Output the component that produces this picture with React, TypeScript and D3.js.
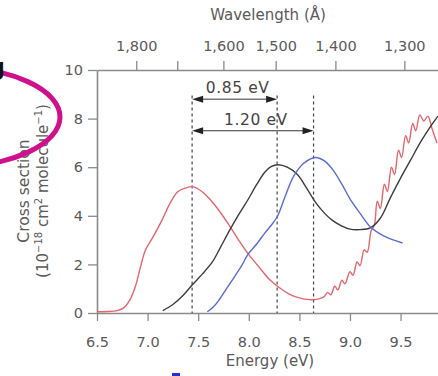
import * as d3 from "d3";
import React, { useRef, useEffect } from 'react'

// energy (eV), cross section (1e-18 cm2 / molecule)
const redE = [6.5, 6.6, 6.7, 6.76, 6.82, 6.88, 6.93, 6.98, 7.05, 7.14, 7.22, 7.3, 7.38, 7.44, 7.52, 7.6, 7.7, 7.8, 7.9, 8.0, 8.1, 8.2, 8.3, 8.4, 8.5, 8.6, 8.68, 8.74,
  8.78, 8.81, 8.85, 8.88, 8.92, 8.95, 9.0, 9.03, 9.07, 9.1, 9.14, 9.17, 9.21, 9.24, 9.27, 9.3, 9.34, 9.37, 9.41, 9.44, 9.48, 9.51, 9.55, 9.58, 9.62, 9.65, 9.69, 9.73, 9.77, 9.81, 9.86]
const redV = [0.05, 0.06, 0.1, 0.2, 0.5, 1.1, 1.9, 2.6, 3.1, 3.8, 4.5, 5.0, 5.15, 5.2, 5.05, 4.75, 4.25, 3.65, 3.0, 2.4, 1.9, 1.4, 1.05, 0.78, 0.62, 0.55, 0.57, 0.65,
  0.85, 0.75, 1.1, 0.95, 1.35, 1.2, 1.7, 1.55, 2.1, 1.95, 2.6, 2.5, 3.4, 3.6, 4.6, 4.3, 5.3, 5.0, 6.0, 5.7, 6.7, 6.4, 7.3, 7.0, 7.8, 7.5, 8.15, 7.9, 8.1, 7.6, 7.0]

const blackE = [7.15, 7.25, 7.35, 7.44, 7.54, 7.64, 7.72, 7.81, 7.9, 7.99, 8.08, 8.16, 8.22, 8.29, 8.38, 8.48, 8.57, 8.66, 8.75, 8.83, 8.92, 9.0, 9.1, 9.2, 9.3, 9.4, 9.5, 9.6, 9.7, 9.8, 9.87]
const blackV = [0.1, 0.35, 0.72, 1.15, 1.6, 2.1, 2.7, 3.4, 4.05, 4.65, 5.3, 5.8, 6.02, 6.1, 6.0, 5.7, 5.15, 4.55, 4.1, 3.8, 3.58, 3.45, 3.43, 3.5, 3.9, 4.75, 5.55, 6.3, 7.05, 7.7, 8.1]

const blueE = [7.59, 7.65, 7.7, 7.78, 7.86, 7.93, 7.99, 8.08, 8.16, 8.22, 8.28, 8.36, 8.44, 8.54, 8.66, 8.75, 8.83, 8.92, 9.0, 9.1, 9.2, 9.28, 9.37, 9.45, 9.52]
const blueV = [0.05, 0.25, 0.5, 1.0, 1.5, 1.95, 2.4, 2.85, 3.3, 3.6, 3.95, 4.8, 5.6, 6.15, 6.4, 6.25, 5.9, 5.3, 4.7, 4.1, 3.55, 3.3, 3.1, 2.98, 2.88]

const energyTicks = [6.5, 7.0, 7.5, 8.0, 8.5, 9.0, 9.5]
const crossTicks = [0, 2, 4, 6, 8, 10]
const wavelengthTicks = [1800, 1700, 1600, 1500, 1400, 1300]
const wavelengthLabels = ["1,800", "", "1,600", "1,500", "1,400", "1,300"]
const peaks = [7.44, 8.28, 8.64]
const gaps = [{ label: "0.85 eV", from: 7.44, to: 8.28, v: 8.8 }, { label: "1.20 eV", from: 7.44, to: 8.64, v: 7.5 }]

const HC = 12398.4 // eV * Å

const W = 438, H = 376
const ml = 97, mt = 70, mb = 313

const textColor = "#5a5a5a"
const axisColor = "#8a8a8a"
const font = "'DejaVu Sans', sans-serif"

const App: React.FC = () => {
  const gx = useRef(null)
  const gy = useRef(null)
  const gt = useRef(null)

  const x = d3.scaleLinear([6.5, 9.865], [ml, W - 0.5])
  const y = d3.scaleLinear([0, 10], [mb, mt])

  const line = d3.line<[number, number]>((d) => x(d[0]), (d) => y(d[1])).curve(d3.curveCatmullRom)
  const series = [
    { e: redE, v: redV, color: "#e4666e" },
    { e: blackE, v: blackV, color: "#3c3c3c" },
    { e: blueE, v: blueV, color: "#5b6cd0" },
  ]

  const style = (g: d3.Selection<SVGGElement, unknown, null, undefined>) => {
    g.select(".domain").attr("stroke", axisColor).attr("stroke-width", 1.6)
    g.selectAll(".tick line").attr("stroke", axisColor).attr("stroke-width", 1.3)
    g.selectAll(".tick text").attr("fill", textColor).attr("font-size", 14.5).attr("font-family", font)
  }

  useEffect(() => {
    if (gx.current) {
      const g = d3.select(gx.current as SVGGElement)
      g.call(d3.axisBottom(x).tickValues(energyTicks).tickFormat(d3.format(".1f")).tickSize(8).tickPadding(16).tickSizeOuter(0))
      style(g)
    }
  }, [gx]);
  useEffect(() => {
    if (gy.current) {
      const g = d3.select(gy.current as SVGGElement)
      g.call(d3.axisLeft(y).tickValues(crossTicks).tickSize(9).tickPadding(5).tickSizeOuter(0))
      style(g)
    }
  }, [gy]);
  useEffect(() => {
    if (gt.current) {
      const g = d3.select(gt.current as SVGGElement)
      g.call(d3.axisTop(x).tickValues(wavelengthTicks.map((l) => HC / l)).tickFormat((_, i) => wavelengthLabels[i]).tickSize(9).tickPadding(10).tickSizeOuter(0))
      style(g)
    }
  }, [gt]);

  const head = (xp: number, yp: number, dir: number) =>
    `M${xp},${yp} L${xp - dir * 11},${yp - 3.5} L${xp - dir * 11},${yp + 3.5} Z`

  return (
    <svg width={W} height={H} style={{ position: "absolute", left: 0, top: 0, background: "#fff" }} fontFamily={font}>
      <rect width={W} height={H} fill="#fff" />
      <g ref={gx} transform={`translate(0, ${mb})`} />
      <g ref={gy} transform={`translate(${ml}, 0)`} />
      <g ref={gt} transform={`translate(0, ${mt})`} />

      {peaks.map((p) => (
        <line key={p} x1={x(p)} x2={x(p)} y1={y(8.95)} y2={y(0)} stroke="#444" strokeWidth={1.2} strokeDasharray="3,3" />
      ))}

      {series.map((s, i) => (
        <path key={i} d={line(s.e.map((e, j) => [e, s.v[j]] as [number, number])) || ""} fill="none" stroke={s.color} strokeWidth={1.4} />
      ))}

      {gaps.map((g) => (
        <g key={g.label}>
          <line x1={x(g.from) + 4} x2={x(g.to) - 4} y1={y(g.v)} y2={y(g.v)} stroke="#333" strokeWidth={1} />
          <path d={head(x(g.from), y(g.v), -1)} fill="#222" />
          <path d={head(x(g.to), y(g.v), 1)} fill="#222" />
          <text x={(x(g.from) + x(g.to)) / 2 + 3} y={y(g.v) - 6} textAnchor="middle" fontSize={15.5} fill="#444" letterSpacing={0.6}>{g.label}</text>
        </g>
      ))}

      <text x={268} y={20} textAnchor="middle" fontSize={15} fill={textColor}>Wavelength (Å)</text>
      <text x={270} y={366} textAnchor="middle" fontSize={15} fill={textColor}>Energy (eV)</text>
      <g transform="translate(29, 191) rotate(-90)">
        <text textAnchor="middle" fontSize={15.5} fill={textColor}>Cross section</text>
      </g>
      <g transform="translate(48, 191) rotate(-90)">
        <text textAnchor="middle" fontSize={15} fill={textColor}>
          (10<tspan fontSize={10} dy={-6}>−18</tspan><tspan dy={6}> cm</tspan><tspan fontSize={10} dy={-6}>2</tspan><tspan dy={6}> molecule</tspan><tspan fontSize={10} dy={-6}>−1</tspan><tspan dy={6}>)</tspan>
        </text>
      </g>

      <ellipse cx={-50} cy={117} rx={110} ry={50} fill="none" stroke="#cf0f8c" strokeWidth={5} />
      <text x={-10} y={75} fontSize={24} fontWeight="bold" fill="#111" fontFamily="'Liberation Sans', sans-serif">g</text>
      <rect x={172} y={373} width={8} height={3} fill="#2a2ae0" />
    </svg>
  )
}

export default App
